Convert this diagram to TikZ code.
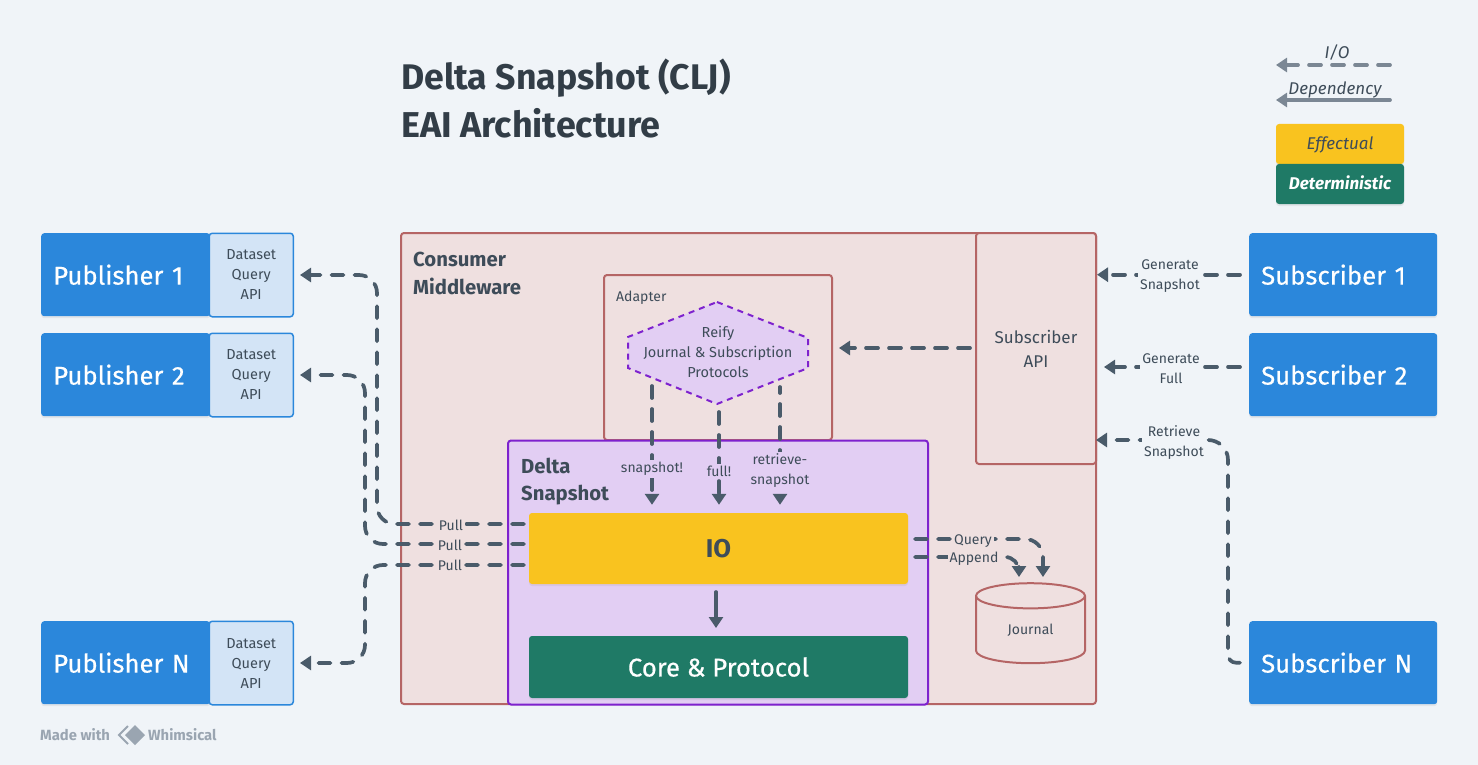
\documentclass[tikz,border=0pt]{standalone}
\usepackage{fontspec}
\setmainfont{Fira Sans}
\newfontfamily\medfont{Fira Sans}[FakeBold=0.4]
\usetikzlibrary{arrows.meta,shapes.geometric,shadows}
\definecolor{pagebg}{HTML}{F0F4F8}
\definecolor{ink}{HTML}{3E4C59}
\definecolor{linkcol}{HTML}{4A5B6A}
\definecolor{legendcol}{HTML}{7B8794}
\definecolor{pubblue}{HTML}{2B87DB}
\definecolor{apifill}{HTML}{D3E4F6}
\definecolor{consfill}{HTML}{EFE0E0}
\definecolor{consline}{HTML}{B56565}
\definecolor{deltafill}{HTML}{E2CEF3}
\definecolor{deltaline}{HTML}{7E22CE}
\definecolor{ioyellow}{HTML}{F9C31F}
\definecolor{coregreen}{HTML}{1F7A66}
\definecolor{madegray}{HTML}{9AA5B1}
\newcommand{\fs}[2]{\fontsize{#1}{#2}\selectfont}
\tikzset{
	softshadow/.style={drop shadow={opacity=0.12, shadow xshift=0pt, shadow yshift=-2pt}},
	bluebox/.style={fill=pubblue, text=white, rounded corners=3, softshadow, inner sep=0, inner xsep=12, minimum height=83, align=left, font=\fs{25.7}{30}\medfont},
	apibox/.style={draw=pubblue, line width=1.5, fill=apifill, text=ink, rounded corners=3, inner sep=0, minimum width=84, minimum height=83.5, align=center, font=\fs{14.5}{20}},
	regionbox/.style={draw=consline, line width=2, fill=consfill, rounded corners=3, inner sep=0},
	bandbox/.style={rounded corners=3, softshadow, inner sep=0, minimum width=379, font=\fs{25.7}{30}},
	keybox/.style={rounded corners=3, softshadow, inner sep=0, minimum width=128, minimum height=40, text height=11, text depth=0, font=\fs{17}{20}\itshape},
	heading/.style={anchor=west, inner sep=0, text=ink, font=\fs{20.3}{24}\bfseries},
	iolink/.style={draw=linkcol, line width=3.7, line cap=round, dash pattern=on 12pt off 11pt, -{Triangle[length=11pt,width=14pt]}},
	deplink/.style={draw=linkcol, line width=3.7, line cap=round, -{Triangle[length=11pt,width=14pt]}},
	linklabel/.style={text=ink, inner sep=2, align=center, font=\fs{14}{20}},
}
\begin{document}
\begin{tikzpicture}[x=1pt, y=-1pt]
	\fill[pagebg] (0,0) rectangle (1478,765);
	\useasboundingbox (0,0) rectangle (1478,765);
	\node[anchor=west, inner sep=0, text=ink!80!black, font=\fs{35.6}{40}\bfseries] (titleA) at (401,78) {Delta Snapshot (CLJ)};
	\node[anchor=west, inner sep=0, text=ink!80!black, font=\fs{35.9}{40}\bfseries] (titleB) at (401,123.5) {EAI Architecture};

	% legend
	\coordinate (keyIoR) at (1390,65);
	\coordinate (keyIoL) at (1276,65);
	\coordinate (keyDepR) at (1390,100);
	\coordinate (keyDepL) at (1276,100);
	\draw[iolink, draw=legendcol] (keyIoR) -- (keyIoL);
	\draw[deplink, draw=legendcol] (keyDepR) -- (keyDepL);
	\node[inner sep=0, text=ink, font=\fs{17}{20}\itshape] (keyIo) at (1337,53) {I/O};
	\node[inner sep=0, text=ink, font=\fs{17}{20}\itshape] (keyDep) at (1335,90) {Dependency};
	\node[keybox, fill=ioyellow, text=ink] (keyFx) at (1340,144) {Effectual};
	\node[keybox, fill=coregreen, text=white] (keyDet) at (1340,184) {\bfseries Deterministic};

	% publishers and subscribers
	\foreach \id/\y/\lab/\yapi in {A/233/1/232.5, B/333/2/332.5, N/621/N/620.5}
	{
		\node[bluebox, anchor=north west, text width=145] (pub\id) at (41,\y) {Publisher \lab};
		\node[apibox, anchor=north west] (api\id) at (208.5,\yapi) {Dataset\\Query\\API};
		\node[bluebox, anchor=north west, text width=164] (sub\id) at (1249,\y) {Subscriber \lab};
	}

	% regions
	\node[regionbox, anchor=north west, minimum width=695, minimum height=471] (consumer) at (400,232) {};
	\node[regionbox, anchor=north west, minimum width=120, minimum height=231, text=ink, align=center, font=\fs{17}{24}] (subApi) at (975,232) {Subscriber\\API};
	\node[regionbox, anchor=north west, minimum width=228, minimum height=165] (adapter) at (603,274) {};
	\node[regionbox, anchor=north west, draw=deltaline, fill=deltafill, minimum width=420, minimum height=264] (delta) at (507,439.5) {};
	\node[heading] (consumerLab) at (413,259) {Consumer};
	\node[heading] (consumerLabB) at (413,286) {Middleware};
	\node[heading] (deltaLab) at (521,466) {Delta};
	\node[heading] (deltaLabB) at (521,495.5) {Snapshot};
	\node[anchor=west, inner sep=0, text=ink, font=\fs{14}{20}] (adapterLab) at (616,298) {Adapter};

	\draw[draw=deltaline, line width=2, fill=deltafill, dash pattern=on 6pt off 5pt] (717,302) -- (808,338) -- (808,368) -- (717,404) -- (628,368) -- (628,337) -- cycle;
	\node[text=ink, inner sep=0, align=center, font=\fs{14.5}{20}] (reify) at (718,352) {Reify\\Journal \& Subscription\\Protocols};
	\coordinate (hexA) at (652,378);
	\coordinate (hexB) at (719,404);
	\coordinate (hexC) at (780,379);

	\node[bandbox, fill=ioyellow, text=ink, minimum height=71] (io) at (718.5,548.5) {\bfseries IO};
	\node[bandbox, fill=coregreen, text=white, minimum height=62] (core) at (718.5,667) {\medfont Core \& Protocol};
	\node[cylinder, shape border rotate=90, aspect=0.55, draw=consline, line width=2, fill=consfill, inner sep=0, minimum width=109, minimum height=80, text=ink, font=\fs{14}{20}] (journal) at (1030.5,630) {Journal};

	% links
	\coordinate (pullA) at (529,524);
	\coordinate (pullB) at (529,544);
	\coordinate (pullC) at (529,565);
	\coordinate (busA) at (377,400);
	\coordinate (busB) at (365,450);
	\coordinate (busC) at (365,620);
	\draw[iolink, rounded corners=18, shorten <=5, shorten >=6] (pullA) -| (busA) |- (apiA.east);
	\draw[iolink, rounded corners=18, shorten <=5, shorten >=6] (pullB) -| (busB) |- (apiB.east);
	\draw[iolink, rounded corners=18, shorten <=5, shorten >=6] (pullC) -| (busC) |- (apiN.east);
	\node[linklabel, fill=consfill] (pullLabA) at (451,525) {Pull};
	\node[linklabel, fill=consfill] (pullLabB) at (450,545) {Pull};
	\node[linklabel, fill=consfill] (pullLabC) at (450,565) {Pull};

	\coordinate (genFull) at (1249,367);
	\coordinate (retrieve) at (1096,440);
	\coordinate (retrieveBus) at (1228,550);
	\draw[iolink, shorten <=9] (subA.west) -- (subApi.east |- subA.west);
	\draw[iolink, shorten <=9, shorten >=7] (genFull) -- (subApi.east |- genFull);
	\draw[iolink, shorten <=9] (subN.west) [rounded corners=8] -| (retrieveBus) [rounded corners=20] |- (retrieve);
	\node[linklabel, fill=pagebg] (genLabA) at (1170,276.5) {Generate\\Snapshot};
	\node[linklabel, fill=pagebg] (genLabB) at (1171,369) {Generate\\Full};
	\node[linklabel, fill=pagebg] (retrieveLab) at (1174,443) {Retrieve\\Snapshot};

	\coordinate (adapterIn) at (832,348);
	\coordinate (subApiOut) at (976,348);
	\draw[iolink, shorten <=6, shorten >=7] (subApiOut) -- (adapterIn);

	\draw[iolink, shorten <=8, shorten >=8] (hexA) -- (hexA |- io.north);
	\draw[iolink, shorten <=8, shorten >=8] (hexB) -- (hexB |- io.north);
	\draw[iolink, dash phase=6pt, shorten <=8, shorten >=8] (hexC) -- (hexC |- io.north);
	\node[linklabel, fill=deltafill] (snapLab) at (652,469) {snapshot!};
	\node[linklabel, fill=deltafill] (fullLab) at (719,471) {full!};
	\node[linklabel, fill=deltafill] (retrLab) at (780,471) {retrieve-\\snapshot};

	\coordinate (coreTop) at (716,636);
	\coordinate (ioBottom) at (716,584);
	\draw[deplink, shorten <=8, shorten >=8] (ioBottom) -- (coreTop);

	\coordinate (queryOut) at (908,539);
	\coordinate (appendOut) at (908,557);
	\coordinate (queryIn) at (1043,583);
	\coordinate (appendIn) at (1019,583);
	\draw[iolink, rounded corners=18, shorten <=7, shorten >=6] (queryOut) -| (queryIn);
	\draw[iolink, rounded corners=14, shorten <=7, shorten >=6] (appendOut) -| (appendIn);
	\node[linklabel, fill=consfill] (queryLab) at (973,541) {Query};
	\node[linklabel, fill=consfill] (appendLab) at (974,559) {Append};

	% footer
	\node[anchor=west, inner sep=0, text=madegray, font=\fs{14.8}{20}\bfseries] (madeA) at (40,735) {Made with};
	\node[anchor=west, inner sep=0, text=madegray, font=\fs{14.8}{20}\bfseries] (madeB) at (148,735) {Whimsical};
	\draw[madegray, line width=2] (128,726) -- (119,735) -- (128,744);
	\fill[madegray] (135,725) -- (145,735) -- (135,745) -- (125,735) -- cycle;
\end{tikzpicture}
\end{document}
